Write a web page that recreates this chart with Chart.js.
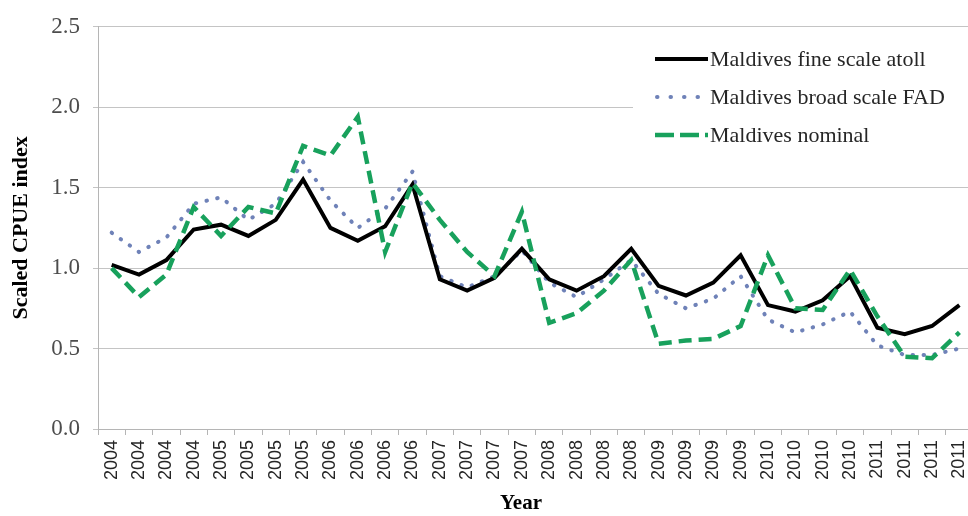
<!DOCTYPE html>
<html>
<head>
<meta charset="utf-8">
<script src="https://cdn.jsdelivr.net/npm/chart.js@4.4.1/dist/chart.umd.min.js"></script>
<style>
  html, body { margin: 0; padding: 0; background: #fff; overflow: hidden; }
  #wrap { width: 968px; height: 516px; overflow: hidden; position: relative; }
  canvas { display: block; }
</style>
</head>
<body>
<div id="wrap"><canvas id="c" width="986" height="516"></canvas></div>
<script>
// Quarterly scaled CPUE indices, 2004-2011
const quarters = [
  '2004','2004','2004','2004','2005','2005','2005','2005',
  '2006','2006','2006','2006','2007','2007','2007','2007',
  '2008','2008','2008','2008','2009','2009','2009','2009',
  '2010','2010','2010','2010','2011','2011','2011','2011'
];
const fineScaleAtoll = [
  1.02, 0.96, 1.05, 1.24, 1.27, 1.20, 1.30, 1.55,
  1.25, 1.17, 1.26, 1.52, 0.93, 0.86, 0.94, 1.12,
  0.93, 0.86, 0.95, 1.12, 0.89, 0.83, 0.91, 1.08,
  0.77, 0.73, 0.80, 0.95, 0.63, 0.59, 0.64, 0.77
];
const broadScaleFAD = [
  1.22, 1.10, 1.19, 1.40, 1.44, 1.30, 1.40, 1.66,
  1.42, 1.25, 1.37, 1.60, 0.95, 0.88, 0.95, 1.11,
  0.91, 0.82, 0.93, 1.05, 0.84, 0.75, 0.81, 0.95,
  0.68, 0.60, 0.65, 0.73, 0.52, 0.46, 0.46, 0.50
];
const nominal = [
  1.00, 0.82, 0.96, 1.38, 1.20, 1.38, 1.34, 1.76,
  1.70, 1.94, 1.10, 1.53, 1.30, 1.10, 0.95, 1.35,
  0.66, 0.72, 0.86, 1.05, 0.53, 0.55, 0.56, 0.64,
  1.08, 0.75, 0.74, 0.99, 0.70, 0.45, 0.44, 0.60
];
const yTicks = [0, 0.5, 1.0, 1.5, 2.0, 2.5];

const SERIF = '"Liberation Serif", "Times New Roman", serif';
const SANS = '"Liberation Sans", Arial, sans-serif';

// Legend drawn inside the plot, top right, on a white panel
const insideLegend = {
  id: 'insideLegend',
  afterDatasetsDraw(chart) {
    const ctx = chart.ctx;
    ctx.save();
    ctx.fillStyle = '#ffffff';
    ctx.fillRect(633, 32, 360, 136);
    const rows = [59, 97, 135];
    chart.data.datasets.forEach((ds, i) => {
      const y = rows[i];
      ctx.beginPath();
      ctx.strokeStyle = ds.borderColor;
      ctx.lineWidth = ds.borderWidth;
      ctx.lineCap = ds.borderCapStyle || 'butt';
      ctx.setLineDash(ds.legendDash || []);
      ctx.moveTo(ds.legendStart || 655, y);
      ctx.lineTo(708, y);
      ctx.stroke();
      ctx.setLineDash([]);
      ctx.fillStyle = '#262626';
      ctx.font = '22px ' + SERIF;
      ctx.textBaseline = 'middle';
      ctx.textAlign = 'left';
      ctx.fillText(ds.label, 710, y + 1);
    });
    // x axis title
    ctx.fillStyle = '#000';
    ctx.font = 'bold 21px ' + SERIF;
    ctx.textAlign = 'center';
    ctx.textBaseline = 'middle';
    ctx.fillText('Year', 521, 504);
    ctx.restore();
  }
};

new Chart(document.getElementById('c'), {
  type: 'line',
  data: {
    labels: quarters,
    datasets: [
      {
        label: 'Maldives fine scale atoll',
        data: fineScaleAtoll,
        borderColor: '#000000',
        borderWidth: 4,
        order: 1
      },
      {
        label: 'Maldives broad scale FAD',
        data: broadScaleFAD,
        borderColor: '#6f82b8',
        borderWidth: 4,
        borderDash: [0.5, 10.5],
        borderCapStyle: 'round',
        legendDash: [0.5, 13],
        legendStart: 657,
        order: 2
      },
      {
        label: 'Maldives nominal',
        data: nominal,
        borderColor: '#18a15c',
        borderWidth: 4.5,
        borderDash: [13, 7],
        legendDash: [19, 6],
        order: 0
      }
    ]
  },
  options: {
    responsive: false,
    animation: false,
    devicePixelRatio: 1,
    layout: { padding: { top: 22, left: 0, right: 0, bottom: 0 } },
    elements: {
      point: { radius: 0, hoverRadius: 0 },
      line: { tension: 0, borderJoinStyle: 'miter' }
    },
    plugins: {
      legend: { display: false },
      tooltip: { enabled: false }
    },
    scales: {
      x: {
        type: 'category',
        offset: true,
        grid: {
          offset: true,
          drawOnChartArea: false,
          drawTicks: true,
          tickLength: 6,
          color: '#b5b5b5'
        },
        border: { display: true, color: '#b5b5b5', width: 1 },
        ticks: {
          autoSkip: false,
          minRotation: 90,
          maxRotation: 90,
          padding: 5,
          color: '#262626',
          font: { family: SANS, size: 18 }
        },
        title: { display: false },
        afterFit(scale) { scale.height = 87; }
      },
      y: {
        min: 0,
        max: 2.5,
        afterBuildTicks(scale) { scale.ticks = yTicks.map(v => ({ value: v })); },
        grid: {
          color: '#c4c4c4',
          tickLength: 5,
          lineWidth: 1
        },
        border: { display: true, color: '#b5b5b5', width: 1 },
        ticks: {
          padding: 13,
          color: '#4d4d4d',
          font: { family: SERIF, size: 23 },
          callback: v => Number(v).toFixed(1)
        },
        title: {
          display: true,
          text: 'Scaled CPUE index',
          color: '#000',
          font: { family: SERIF, size: 22, weight: 'bold' },
          padding: { top: 8, bottom: 0 }
        },
        afterFit(scale) { scale.width = 98; }
      }
    }
  },
  plugins: [insideLegend]
});
</script>
</body>
</html>
